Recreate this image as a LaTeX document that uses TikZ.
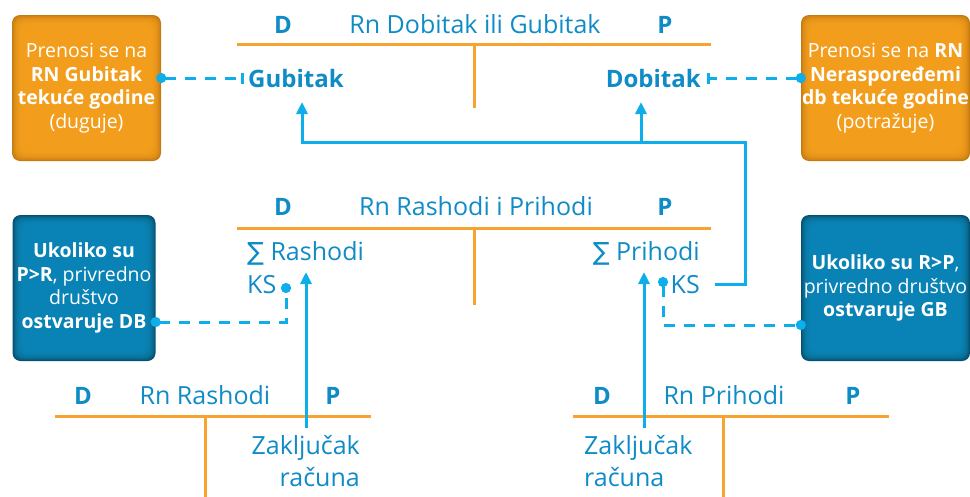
\documentclass[tikz,border=0pt]{standalone}
\usepackage{fontspec}
\setmainfont{Open Sans}
\newfontfamily\sumfont{DejaVu Sans}
\usetikzlibrary{arrows.meta}
\definecolor{txtblue}{HTML}{0F8BC6}
\definecolor{linecyan}{HTML}{0EAEEB}
\definecolor{lineorange}{HTML}{F8A330}
\definecolor{orangefill}{HTML}{F6A21F}
\definecolor{orangeedge}{HTML}{C47A10}
\definecolor{bluefill}{HTML}{0C88BB}
\definecolor{blueedge}{HTML}{06506F}
\begin{document}
\begin{tikzpicture}[x=1pt,y=-1pt,
  acct/.style={draw=lineorange, line width=3pt},
  lbl/.style={text=txtblue, inner sep=0pt, font=\fontsize{25}{32}\selectfont},
  side/.style={text=txtblue, inner sep=0pt, font=\fontsize{24}{32}\selectfont\bfseries},
  conn/.style={draw=linecyan, line width=3pt},
  tip/.style={-{Triangle[length=12pt,width=11pt]}},
  dashline/.style={draw=linecyan, line width=3pt, dash pattern=on 11pt off 9pt},
  dotted end/.style={{Circle[length=10pt]}-{Circle[length=10pt]}, shorten <=-5pt, shorten >=-5pt},
  card/.style args={#1/#2}{fill=#2, rounded corners=8pt, inner sep=0pt, text=white,
    align=center, font=\fontsize{19.5}{23.5}\selectfont,
    path picture={
      \foreach \k in {1,...,10}{
        \fill[#1, opacity=0.25, rounded corners=8pt]
          ([shift={(\k pt,-\k pt)}]path picture bounding box.north west) rectangle
          ([shift={(-\k pt,\k pt)}]path picture bounding box.south east);
      }}},
]
\useasboundingbox (0,0) rectangle (970,496);

% ---- side cards ----
\node[card=orangefill/orangeedge, minimum width=149pt, minimum height=146pt] (carryL) at (86.5,88)
  {Prenosi se na\\\textbf{RN Gubitak}\\\textbf{tekuće godine}\\(duguje)};
\node[card=orangefill/orangeedge, minimum width=169pt, minimum height=146pt] (carryR) at (885.5,88)
  {Prenosi se na \textbf{RN}\\\textbf{Neraspoređemi}\\\textbf{db tekuće godine}\\(potražuje)};
\node[card=bluefill/blueedge, minimum width=143pt, minimum height=146pt] (condL) at (84,288)
  {\textbf{Ukoliko su}\\\textbf{P>R}, privredno\\društvo\\\textbf{ostvaruje DB}};
\node[card=bluefill/blueedge, minimum width=169pt, minimum height=146pt] (condR) at (885.5,288)
  {\textbf{Ukoliko su R>P},\\privredno društvo\\\textbf{ostvaruje GB}};

% ---- account: Rn Dobitak ili Gubitak ----
\draw[acct] (237,44) -- (711,44);
\draw[acct] (474,44) -- (474,108);
\node[side, anchor=base] (dgD) at (283,33) {D};
\node[lbl, anchor=base] (dgT) at (475,33) {Rn Dobitak ili Gubitak};
\node[side, anchor=base] (dgP) at (665,33) {P};
\node[side, anchor=base west] (gub) at (248,87) {Gubitak};
\node[side, anchor=base east] (dob) at (701,87) {Dobitak};

% ---- account: Rn Rashodi i Prihodi ----
\draw[acct] (237,228) -- (711,228);
\draw[acct] (474,228) -- (474,305);
\node[side, anchor=base] (rpD) at (283,215) {D};
\node[lbl, anchor=base] (rpT) at (476,215) {Rn Rashodi i Prihodi};
\node[side, anchor=base] (rpP) at (665,215) {P};
\node[lbl, anchor=base west] (sumR) at (247,260) {{\sumfont ∑} Rashodi};
\node[lbl, anchor=base west] (ksR) at (247,293) {KS};
\node[lbl, anchor=base east] (sumP) at (700,260) {{\sumfont ∑} Prihodi};
\node[lbl, anchor=base east] (ksP) at (700,293) {KS};

% ---- account: Rn Rashodi ----
\draw[acct] (55,416) -- (371,416);
\draw[acct] (205,416) -- (205,498);
\node[side, anchor=base] (rD) at (83,404) {D};
\node[lbl, anchor=base] (rT) at (205,404) {Rn Rashodi};
\node[side, anchor=base] (rP) at (333,404) {P};
\node[lbl, align=right, anchor=north east] (zakL) at (360,435) {Zaključak\\računa};

% ---- account: Rn Prihodi ----
\draw[acct] (573,416) -- (889,416);
\draw[acct] (723,416) -- (723,498);
\node[side, anchor=base] (pD) at (602,404) {D};
\node[lbl, anchor=base] (pT) at (724,404) {Rn Prihodi};
\node[side, anchor=base] (pP) at (853,404) {P};
\node[lbl, align=left, anchor=north west] (zakR) at (584,435) {Zaključak\\računa};

% ---- closing entries ----
\coordinate (footL) at (306,428);
\coordinate (headL) at (306,272);
\coordinate (footR) at (644,428);
\coordinate (headR) at (644,272);
\draw[conn, tip] (footL) -- (headL);
\draw[conn, tip] (footR) -- (headR);

% ---- result transfer ----
\coordinate (turn) at (745,142);
\coordinate (gubIn) at (302,102);
\coordinate (dobIn) at (641,102);
\draw[conn, tip] ([xshift=15pt]ksP.east) -| (turn) -| (gubIn);
\draw[conn, tip] (dobIn |- turn) -- (dobIn);

% ---- dashed references ----
\draw[dashline, {Circle[length=10pt]}-{Bar[width=11pt]}, shorten <=-5pt, shorten >=4pt]
  (carryL.east |- gub.east) -- (gub.west);
\draw[dashline, {Circle[length=10pt]}-{Bar[width=11pt]}, shorten <=-5pt, shorten >=6pt]
  (carryR.west |- dob.east) -- (dob.east);
\coordinate (dotKSR) at (286,288);
\coordinate (cornL) at (286,322);
\draw[dashline, dotted end] (condL.east |- cornL) -- (cornL) -- (dotKSR);
\coordinate (dotKSP) at (663,282);
\coordinate (cornR) at (663,325);
\draw[dashline, dotted end] (dotKSP) -- (cornR) -- (condR.west |- cornR);
\end{tikzpicture}
\end{document}
